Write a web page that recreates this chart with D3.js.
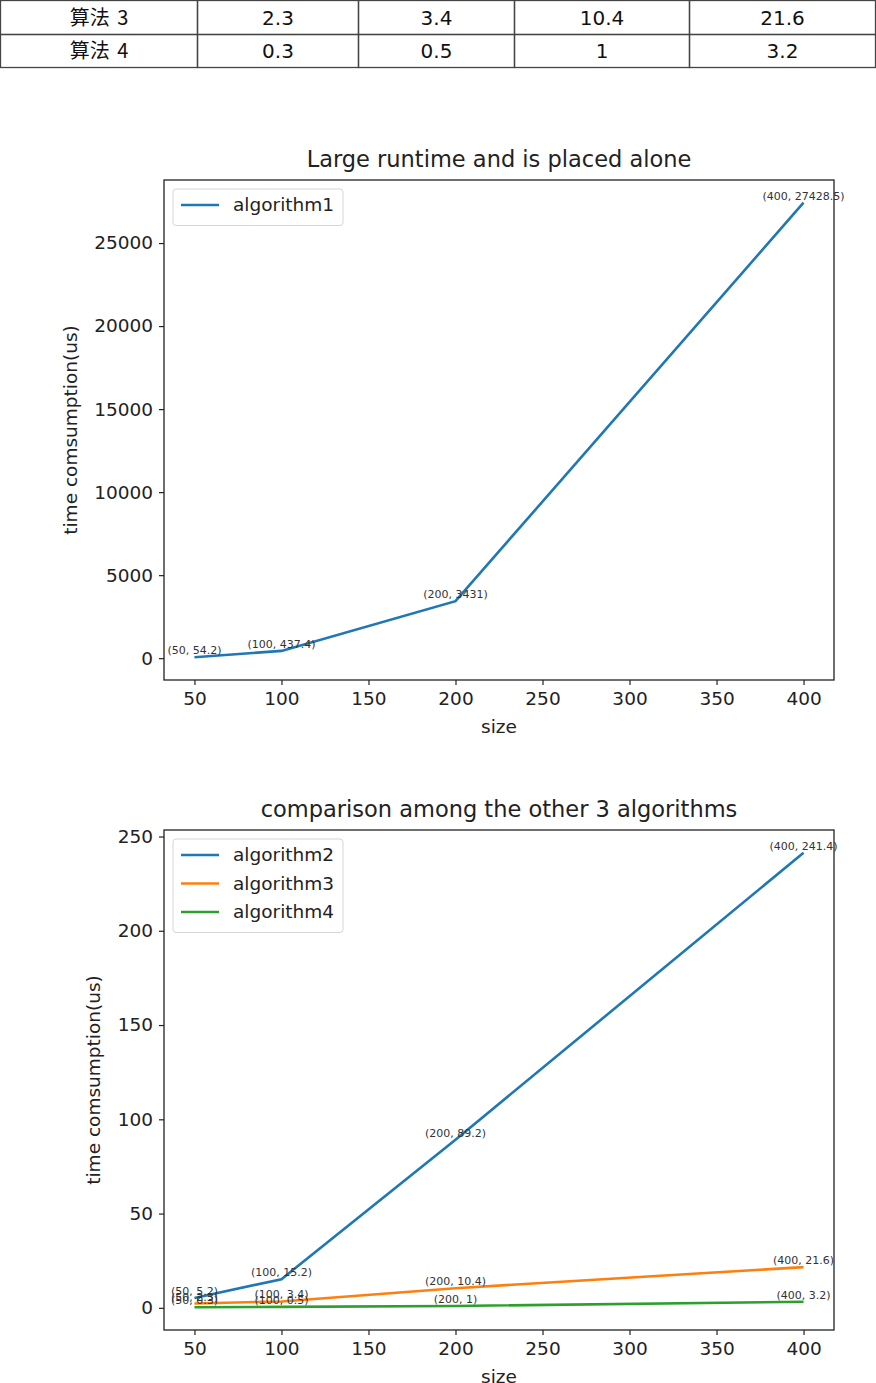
<!DOCTYPE html>
<html>
<head>
<meta charset="utf-8">
<script src="https://cdn.jsdelivr.net/npm/d3@7"></script>
<style>
  body { margin: 0; background: #fff; }
  svg { display: block; }
</style>
</head>
<body>
<svg id="page"></svg>
<script>
// table rows (only the visible part of the table)
const tableRows = ["算法 3", "算法 4"];
const tableValues = [[2.3, 3.4, 10.4, 21.6], [0.3, 0.5, 1, 3.2]];

// chart data
const sizes = [50, 100, 200, 400];
const algorithm1 = [54.2, 437.4, 3431, 27428.5];
const algorithm2 = [5.2, 15.2, 89.2, 241.4];
const algorithm3 = [2.3, 3.4, 10.4, 21.6];
const algorithm4 = [0.3, 0.5, 1, 3.2];
const xTicks = [50, 100, 150, 200, 250, 300, 350, 400];
const yTicks1 = [0, 5000, 10000, 15000, 20000, 25000];
const yTicks2 = [0, 50, 100, 150, 200, 250];

const W = 876, H = 1383;
const font = "DejaVu Sans, sans-serif";
const svg = d3.select("#page").attr("width", W).attr("height", H);

//draw table
const colEdges = [0.5, 197.5, 358.5, 514.5, 689.5, 875.5];
const rowEdges = [0.5, 34.5, 67.5];
const tbl = svg.append("g");
tableRows.forEach((name, r) => {
    const cells = [name, ...tableValues[r]];
    cells.forEach((c, i) => {
        tbl.append("rect")
            .attr("x", colEdges[i]).attr("y", rowEdges[r])
            .attr("width", colEdges[i + 1] - colEdges[i])
            .attr("height", rowEdges[r + 1] - rowEdges[r])
            .attr("fill", "none").attr("stroke", "#444").attr("stroke-width", 1.3);
        tbl.append("text")
            .attr("x", (colEdges[i] + colEdges[i + 1]) / 2)
            .attr("y", (rowEdges[r] + rowEdges[r + 1]) / 2 + 7)
            .attr("text-anchor", "middle")
            .style("font-family", i === 0 ? "'Noto Sans CJK SC', 'DejaVu Sans', sans-serif" : font)
            .style("font-size", "20px")
            .style("word-spacing", "3px")
            .attr("fill", "#111")
            .text(c);
    });
});

const colors = ["#1f77b4", "#ff7f0e", "#2ca02c"];

//function to draw one matplotlib-style chart
function drawChart(top, title, series, yTicks, yLabelX) {
    const left = 164, right = 834, bottom = top + 500;
    const g = svg.append("g");

    const allY = series.flatMap(s => s.values);
    const yMin = d3.min(allY), yMax = d3.max(allY);
    const yPad = (yMax - yMin) * 0.05;
    const x = d3.scaleLinear().domain([50 - 17.5, 400 + 17.5]).range([left, right]);
    const y = d3.scaleLinear().domain([yMin - yPad, yMax + yPad]).range([bottom, top]);

    //axes
    g.append("g")
        .attr("transform", `translate(0,${bottom})`)
        .call(d3.axisBottom(x).tickValues(xTicks).tickSize(5).tickPadding(7).tickSizeOuter(0))
        .call(a => a.select(".domain").remove())
        .call(a => a.selectAll("line").attr("stroke", "#222").attr("stroke-width", 1.2))
        .call(a => a.selectAll("text").style("font-family", font).style("font-size", "18.5px").attr("fill", "#222"));

    g.append("g")
        .attr("transform", `translate(${left},0)`)
        .call(d3.axisLeft(y).tickValues(yTicks).tickFormat(d3.format("d")).tickSize(5).tickPadding(6).tickSizeOuter(0))
        .call(a => a.select(".domain").remove())
        .call(a => a.selectAll("line").attr("stroke", "#222").attr("stroke-width", 1.2))
        .call(a => a.selectAll("text").style("font-family", font).style("font-size", "18.5px").attr("fill", "#222"));

    //lines
    const line = d3.line().x((d, i) => x(sizes[i])).y(d => y(d));
    series.forEach((s, k) => {
        g.append("path")
            .datum(s.values)
            .attr("d", line)
            .attr("fill", "none")
            .attr("stroke", colors[k])
            .attr("stroke-width", 2.6);
    });

    //point labels
    series.forEach(s => {
        s.values.forEach((v, i) => {
            g.append("text")
                .attr("x", x(sizes[i]))
                .attr("y", y(v) - 3)
                .attr("text-anchor", "middle")
                .style("font-family", font)
                .style("font-size", "11px")
                .attr("fill", "#333")
                .text(`(${sizes[i]}, ${v})`);
        });
    });

    //frame
    g.append("rect")
        .attr("x", left).attr("y", top)
        .attr("width", right - left).attr("height", bottom - top)
        .attr("fill", "none").attr("stroke", "#222").attr("stroke-width", 1.3);

    //title and labels
    g.append("text")
        .attr("x", (left + right) / 2).attr("y", top - 13)
        .attr("text-anchor", "middle")
        .style("font-family", font).style("font-size", "22.5px").attr("fill", "#222")
        .text(title);
    g.append("text")
        .attr("x", (left + right) / 2).attr("y", bottom + 53)
        .attr("text-anchor", "middle")
        .style("font-family", font).style("font-size", "18.5px").attr("fill", "#222")
        .text("size");
    g.append("text")
        .attr("transform", `translate(${yLabelX},${(top + bottom) / 2}) rotate(-90)`)
        .attr("text-anchor", "middle")
        .style("font-family", font).style("font-size", "18.5px").attr("fill", "#222")
        .text("time comsumption(us)");

    //legend
    const lg = g.append("g").attr("transform", `translate(${left + 9},${top + 9})`);
    lg.append("rect")
        .attr("width", 170).attr("height", 8 + series.length * 28.5)
        .attr("rx", 3)
        .attr("fill", "#fff").attr("stroke", "#d6d6d6").attr("stroke-width", 1);
    series.forEach((s, k) => {
        const yy = 16 + k * 28.5;
        lg.append("line")
            .attr("x1", 8).attr("x2", 46).attr("y1", yy).attr("y2", yy)
            .attr("stroke", colors[k]).attr("stroke-width", 2.6);
        lg.append("text")
            .attr("x", 60).attr("y", yy + 6)
            .style("font-family", font).style("font-size", "18.5px").attr("fill", "#222")
            .text(s.name);
    });
}

drawChart(180, "Large runtime and is placed alone",
    [{ name: "algorithm1", values: algorithm1 }], yTicks1, 77);
drawChart(830, "comparison among the other 3 algorithms",
    [{ name: "algorithm2", values: algorithm2 },
     { name: "algorithm3", values: algorithm3 },
     { name: "algorithm4", values: algorithm4 }], yTicks2, 100);
</script>
</body>
</html>
